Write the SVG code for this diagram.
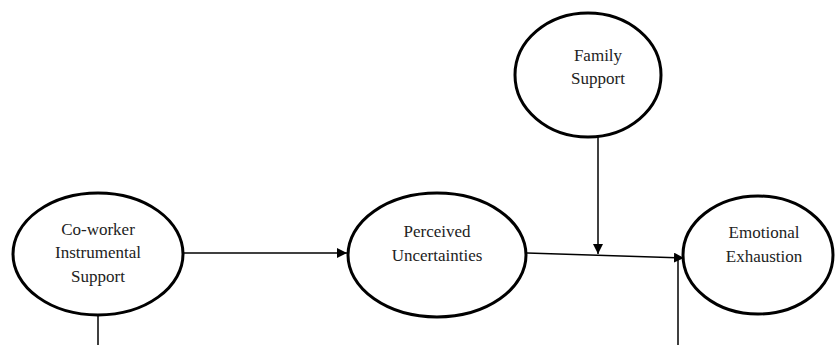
<svg xmlns="http://www.w3.org/2000/svg" width="835" height="345" viewBox="0 0 835 345">
<style>
.n ellipse{fill:#fff;stroke:#000;stroke-width:3}
.n text{font-family:"Liberation Serif","Times New Roman",serif;font-size:17px;fill:#222;text-anchor:middle}
.c line{stroke:#000;stroke-width:1.5;fill:none}
</style>
<defs>
<marker id="ah" viewBox="0 0 10 10" refX="10" refY="5" markerWidth="10" markerHeight="10" markerUnits="userSpaceOnUse" orient="auto">
<path d="M0,0 L10,5 L0,10 z" fill="#000"/>
</marker>
</defs>
<rect width="835" height="345" fill="#fff"/>
<g id="connectors" class="c">
<line x1="184" y1="253" x2="347" y2="253" marker-end="url(#ah)"/>
<line x1="527" y1="253" x2="684" y2="258" marker-end="url(#ah)"/>
<line x1="598" y1="137" x2="598" y2="254" marker-end="url(#ah)"/>
<line x1="678" y1="345" x2="678" y2="259"/>
<line x1="98" y1="315" x2="98" y2="345"/>
</g>
<g id="coworker" class="n">
<ellipse cx="98" cy="254" rx="85" ry="61"/>
<text x="98" y="235">Co-worker</text>
<text x="98" y="258">Instrumental</text>
<text x="98" y="282">Support</text>
</g>
<g id="perceived" class="n">
<ellipse cx="437" cy="255" rx="89" ry="62"/>
<text x="437" y="237">Perceived</text>
<text x="437" y="261">Uncertainties</text>
</g>
<g id="family" class="n">
<ellipse cx="588" cy="75" rx="73" ry="62"/>
<text x="598" y="61">Family</text>
<text x="598" y="84">Support</text>
</g>
<g id="emotional" class="n">
<ellipse cx="758" cy="255" rx="75" ry="59"/>
<text x="764" y="238">Emotional</text>
<text x="764" y="262">Exhaustion</text>
</g>
</svg>
